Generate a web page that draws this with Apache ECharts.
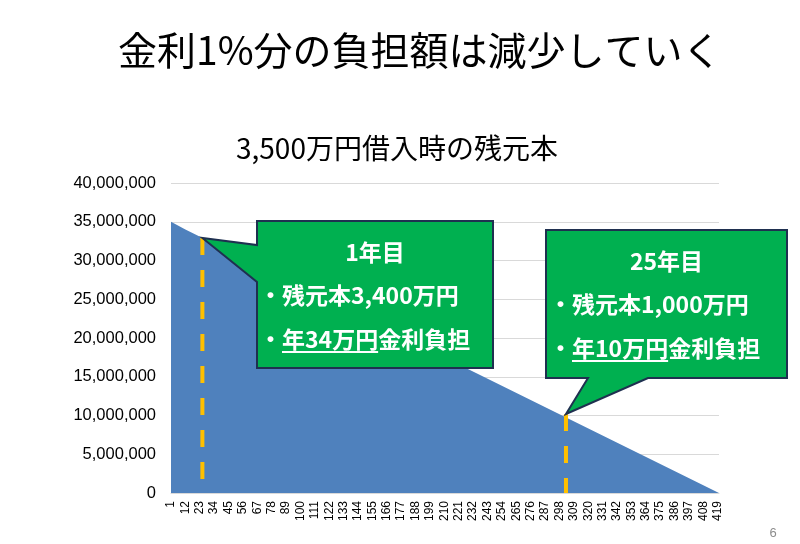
<!DOCTYPE html>
<html>
<head>
<meta charset="utf-8">
<script src="https://cdn.jsdelivr.net/npm/echarts@6/dist/echarts.min.js"></script>
<style>
html,body{margin:0;padding:0;background:#fff;}
#chart{width:800px;height:544px;}
</style>
</head>
<body>
<div id="chart"></div>
<script>
// 借入月（1〜420ヶ月）
const months = [];
for (let m = 1; m <= 420; m++) months.push(String(m));

// 残元本（図から読み取った点）
const balanceMonths = ['1', '12', '300', '420'];
const balanceValues = [35000000, 34000000, 10000000, 0];

// 黄色の破線：位置（月）と上端の残元本
const markerMonths = ['25', '303'];
const markerTops = [32900000, 10200000];

// 吹き出しの文字
const calloutTitles = ['1年目', '25年目'];
const calloutBalances = ['・残元本3,400万円', '・残元本1,000万円'];
const calloutInterests = ['年34万円', '年10万円'];
const calloutRest = '金利負担';

const JP = '"Noto Sans CJK JP", sans-serif';
const LAT = '"Liberation Sans", Arial, sans-serif';

const chart = echarts.init(document.getElementById('chart'));

const series = [{
  type: 'line',
  data: balanceMonths.map((m, i) => [m, balanceValues[i]]),
  symbol: 'none',
  lineStyle: {width: 0},
  areaStyle: {color: '#4F81BD', opacity: 1},
  silent: true,
  z: 2
}];
markerMonths.forEach((m, i) => {
  series.push({
    type: 'line',
    data: [[m, markerTops[i]], [m, 0]],
    symbol: 'none',
    lineStyle: {color: '#FFC000', width: 4, type: [17, 15]},
    silent: true,
    z: 3
  });
});

const option = {
  animation: false,
  backgroundColor: '#fff',
  title: [{
    text: '金利1%分の負担額は減少していく',
    left: 113, top: 26,
    textStyle: {fontFamily: JP, fontSize: 39, fontWeight: 'normal', color: '#000'}
  }, {
    text: '3,500万円借入時の残元本',
    left: 231, top: 129,
    textStyle: {fontFamily: JP, fontSize: 28, fontWeight: 'normal', color: '#000'}
  }],
  grid: {left: 171, right: 81, top: 183, bottom: 51},
  xAxis: {
    type: 'category',
    data: months,
    boundaryGap: false,
    axisLine: {lineStyle: {color: '#D9D9D9'}},
    axisTick: {show: false},
    axisLabel: {
      interval: 10, rotate: 90, margin: 8,
      fontFamily: LAT, fontSize: 12, color: '#000'
    },
    splitLine: {show: false}
  },
  yAxis: {
    type: 'value',
    min: 0, max: 40000000, interval: 5000000,
    axisLine: {show: false},
    axisTick: {show: false},
    axisLabel: {
      margin: 15, fontFamily: LAT, fontSize: 16.5, color: '#000',
      formatter: v => v.toLocaleString('en-US')
    },
    splitLine: {lineStyle: {color: '#D9D9D9', width: 1}}
  },
  series: series
};
chart.setOption(option);

// 文字幅を測る
const ctx = document.createElement('canvas').getContext('2d');
function textWidth(text, font) {
  ctx.font = font;
  return ctx.measureText(text).width;
}

// 吹き出し（箱の位置は手で合わせた）
const boxes = [
  {left: 257, top: 221, right: 493, bottom: 368, side: 'left', a: 245, b: 282, textX: 259},
  {left: 546, top: 230, right: 787, bottom: 378, side: 'bottom', a: 588, b: 648, textX: 549}
];
const boldFont = 'bold 23px ' + JP;
const graphics = [];
boxes.forEach((bx, i) => {
  const tip = chart.convertToPixel({xAxisIndex: 0, yAxisIndex: 0},
    [months.indexOf(markerMonths[i]), markerTops[i]]);
  let pts;
  if (bx.side === 'left') {
    pts = [[bx.left, bx.top], [bx.right, bx.top], [bx.right, bx.bottom], [bx.left, bx.bottom],
      [bx.left, bx.b], tip, [bx.left, bx.a]];
  } else {
    pts = [[bx.left, bx.top], [bx.right, bx.top], [bx.right, bx.bottom], [bx.b, bx.bottom],
      tip, [bx.a, bx.bottom], [bx.left, bx.bottom]];
  }
  graphics.push({
    type: 'polygon', z: 10,
    shape: {points: pts},
    style: {fill: '#00B050', stroke: '#1F3050', lineWidth: 2}
  });
  const cx = (bx.left + bx.right) / 2;
  graphics.push({
    type: 'text', z: 11, x: cx, y: bx.top + 31,
    style: {text: calloutTitles[i], font: boldFont, fill: '#fff', align: 'center', verticalAlign: 'middle'}
  });
  graphics.push({
    type: 'text', z: 11, x: bx.textX, y: bx.top + 74,
    style: {text: calloutBalances[i], font: boldFont, fill: '#fff', align: 'left', verticalAlign: 'middle'}
  });
  const line3 = '・' + calloutInterests[i] + calloutRest;
  graphics.push({
    type: 'text', z: 11, x: bx.textX, y: bx.top + 118,
    style: {text: line3, font: boldFont, fill: '#fff', align: 'left', verticalAlign: 'middle'}
  });
  const u0 = bx.textX + textWidth('・', boldFont);
  const u1 = bx.textX + textWidth('・' + calloutInterests[i], boldFont);
  graphics.push({
    type: 'line', z: 11,
    shape: {x1: u0, y1: bx.top + 131, x2: u1, y2: bx.top + 131},
    style: {stroke: '#fff', lineWidth: 2}
  });
});
graphics.push({
  type: 'text', x: 773, y: 533,
  style: {text: '6', font: '13px ' + LAT, fill: '#8C8C8C', align: 'center', verticalAlign: 'middle'}
});
chart.setOption({graphic: graphics});
</script>
</body>
</html>
